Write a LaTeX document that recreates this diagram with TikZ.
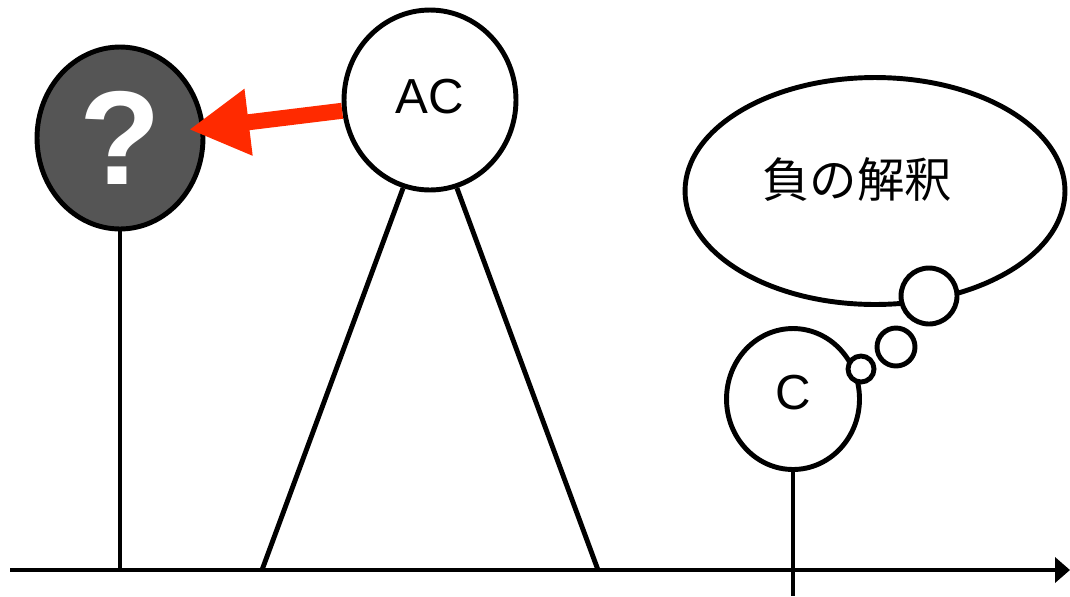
\documentclass[tikz,border=0pt]{standalone}
\usepackage{fontspec}
\setmainfont{Liberation Sans}
\newfontfamily\jpfont{Noto Sans CJK JP}
\usetikzlibrary{arrows.meta,shapes.geometric}
\definecolor{qgray}{HTML}{555555}
\definecolor{arrowred}{HTML}{FF2A00}
\tikzset{
  person/.style={ellipse, draw, line width=2.8pt, fill=white, inner sep=0pt, font=\fontsize{28}{28}\selectfont},
  bubble/.style={ellipse, draw, line width=2.8pt, fill=white, inner sep=0pt},
  leg/.style={line width=2.8pt},
  timeaxis/.style={line width=2.8pt, -{Triangle[length=3mm, width=5mm]}},
  blame/.style={line width=3.2mm, arrowred, -{Triangle[length=12mm, width=12.6mm]}},
}
\begin{document}
\begin{tikzpicture}[x=0.02cm, y=-0.02cm]
  \useasboundingbox (0,0) rectangle (1070,596);

  % time axis and feet
  \coordinate (origin) at (10,570);
  \coordinate (xend) at (1070,570);
  \coordinate (qfoot) at (120,570);
  \coordinate (acleft) at (262,570);
  \coordinate (acright) at (598,570);
  \coordinate (cfoot) at (793,596);
  \draw[timeaxis] (origin) -- (xend);

  % people
  \node[person, fill=qgray, text=white, minimum width=3.32cm, minimum height=3.64cm,
        font=\fontsize{76}{76}\selectfont\bfseries] (q) at (120,138) {?};
  \node[person, minimum width=3.44cm, minimum height=3.6cm, text depth=4.5pt] (ac) at (430,100) {AC};
  \node[person, minimum width=2.66cm, minimum height=2.82cm, text depth=8pt] (c) at (793,399) {C};

  \draw[leg] (q.south) -- (qfoot);
  \draw[leg] (ac.253) -- (acleft);
  \draw[leg] (ac.287) -- (acright);
  \draw[leg] (c.south) -- (cfoot);

  % thought bubble
  \node[bubble, minimum width=7.6cm, minimum height=4.54cm] (thought) at (875,191) {};
  \node[bubble, minimum size=1.12cm] (b1) at (929,296) {};
  \node[bubble, minimum size=0.76cm] (b2) at (896,347) {};
  \node[bubble, minimum size=0.52cm] (b3) at (861,369) {};
  \node[font=\jpfont\fontsize{27}{27}\selectfont] (neg) at (857,180) {負の解釈};

  % who is to blame
  \draw[blame, shorten >=-0.32cm] (ac) -- (q);
\end{tikzpicture}
\end{document}
